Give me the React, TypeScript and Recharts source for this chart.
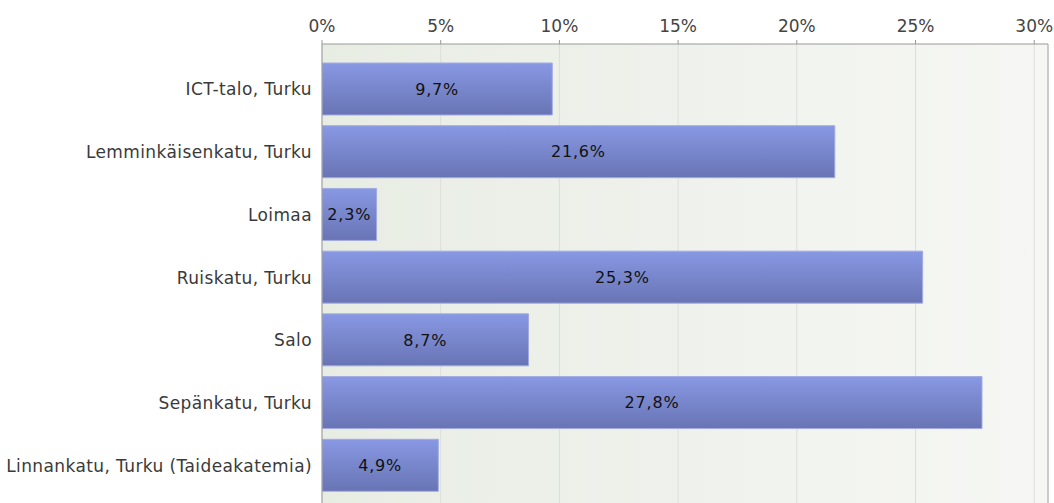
import React from 'react';
import {
  BarChart,
  Bar,
  XAxis,
  YAxis,
  CartesianGrid,
  LabelList,
  ReferenceLine,
} from 'recharts';

const categories = [
  'ICT-talo, Turku',
  'Lemminkäisenkatu, Turku',
  'Loimaa',
  'Ruiskatu, Turku',
  'Salo',
  'Sepänkatu, Turku',
  'Linnankatu, Turku (Taideakatemia)',
];

const shares = [9.7, 21.6, 2.3, 25.3, 8.7, 27.8, 4.9];

const xTicks = [0, 5, 10, 15, 20, 25, 30];

const X_MAX = 30.58;

const FONT = 'DejaVu Sans, Verdana, sans-serif';

const data = categories.map((name, i) => ({ name, value: shares[i] }));

const fmtLabel = (v: any) => `${Number(v).toFixed(1).replace('.', ',')}%`;

const App: React.FC = () => {
  return (
    <div
      style={{
        position: 'absolute',
        top: 0,
        left: 0,
        width: 1054,
        height: 503,
        overflow: 'hidden',
        background: '#fff',
      }}
    >
      <BarChart
        width={1054}
        height={515}
        data={data}
        layout="vertical"
        margin={{ top: 14, right: 6, bottom: 4, left: 0 }}
      >
        <defs>
          <linearGradient id="plotBg" x1="0" y1="0" x2="1" y2="0">
            <stop offset="0%" stopColor="#e8ede4" />
            <stop offset="100%" stopColor="#f6f7f4" />
          </linearGradient>
          <linearGradient id="barFill" x1="0" y1="0" x2="0" y2="1">
            <stop offset="0%" stopColor="#8898e3" />
            <stop offset="100%" stopColor="#6874b4" />
          </linearGradient>
        </defs>
        <CartesianGrid
          horizontal={false}
          stroke="#dcdedb"
          fill="url(#plotBg)"
          fillOpacity={1}
        />
        <XAxis
          type="number"
          orientation="top"
          domain={[0, X_MAX]}
          ticks={xTicks}
          allowDataOverflow
          height={30}
          tickFormatter={(v) => `${v}%`}
          tick={{ fill: '#444', fontSize: 17, fontFamily: FONT }}
          tickSize={4}
          tickMargin={8}
          stroke="#999"
        />
        <YAxis
          type="category"
          dataKey="name"
          width={322}
          padding={{ top: 14, bottom: 14 }}
          tickLine={false}
          tickSize={0}
          tickMargin={10}
          stroke="#999"
          tick={{ fill: '#3a3a3a', fontSize: 17, fontFamily: FONT, letterSpacing: 0.4 }}
        />
        <ReferenceLine x={X_MAX} stroke="#aaa" ifOverflow="extendDomain" />
        <Bar
          dataKey="value"
          barSize={52}
          fill="url(#barFill)"
          stroke="#a3abe2"
          strokeWidth={1}
          isAnimationActive={false}
        >
          <LabelList
            dataKey="value"
            position="center"
            formatter={fmtLabel}
            fill="#111"
            fontSize={16}
            fontFamily={FONT}
            letterSpacing={0.8}
          />
        </Bar>
      </BarChart>
    </div>
  );
};

export default App;
